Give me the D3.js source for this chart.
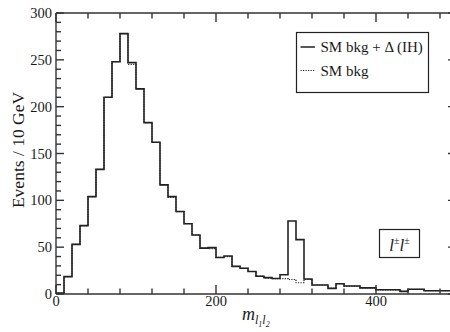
<!DOCTYPE html>
<html>
<head>
<meta charset="utf-8">
<script src="https://cdn.jsdelivr.net/npm/d3@7"></script>
<style>
  html, body { margin: 0; padding: 0; background: #fff; }
  svg { display: block; }
  text { font-family: "Liberation Serif", "DejaVu Serif", serif; fill: #1a1a1a; }
</style>
</head>
<body>
<svg id="chart" width="450" height="332"></svg>
<script>
// Lower edges of the 10 GeV bins in m_{l1 l2}
const binEdges = [0, 10, 20, 30, 40, 50, 60, 70, 80, 90,
  100, 110, 120, 130, 140, 150, 160, 170, 180, 190,
  200, 210, 220, 230, 240, 250, 260, 270, 280, 290,
  300, 310, 320, 330, 340, 350, 360, 370, 380, 390,
  400, 410, 420, 430, 440, 450, 460, 470, 480, 490];
const binWidth = 10;

// SM background plus doubly-charged Higgs (inverted hierarchy)
const sigPlusBkg = [1, 18.5, 53, 73, 104, 133, 210, 248, 278, 247,
  219, 183, 162, 116.5, 104, 88, 75, 63, 49, 49.5,
  39, 40.5, 29.5, 27.5, 24, 19, 17.5, 16.5, 20.5, 78,
  58, 16, 9.6, 9.6, 6, 11, 8.5, 8.5, 6.5, 6.5,
  4.5, 4.5, 4.5, 2.8, 5, 5, 3.5, 3.5, 3.5, 3.5];

// SM background only
const smBkg = [1, 18.5, 53, 73, 104, 133, 210, 248, 278, 245,
  219, 183, 162, 116.5, 103, 88, 75, 63, 49, 48.5,
  39, 40, 29.5, 27.5, 24, 19, 17, 16.5, 16.5, 15.5,
  12, 15.5, 9.6, 9.6, 6, 11, 8.5, 8.5, 6.5, 6.5,
  4.5, 4.5, 4.5, 2.8, 5, 5, 3.5, 3.5, 3.5, 3.5];

const xMinor = [0, 40, 80, 120, 160, 200, 240, 280, 320, 360, 400, 440, 480];
const xMajor = [0, 200, 400];
const yMinor = [0, 10, 20, 30, 40, 50, 60, 70, 80, 90, 100, 110, 120, 130, 140, 150,
  160, 170, 180, 190, 200, 210, 220, 230, 240, 250, 260, 270, 280, 290, 300];
const yMajor = [0, 50, 100, 150, 200, 250, 300];

const legendEntries = [
  { label: "SM bkg + \u0394 (IH)", dash: null },
  { label: "SM bkg", dash: "1.2,1.3" }
];

const svg = d3.select("#chart");
const ink = "#222";

const x = d3.scaleLinear().domain([0, 500]).range([56, 456]);
const y = d3.scaleLinear().domain([0, 300]).range([294, 13]);

// Histogram outline as a step path
function stepPoints(vals) {
  const pts = binEdges.map((e, i) => [e, vals[i]]);
  pts.push([binEdges[binEdges.length - 1] + binWidth, vals[vals.length - 1]]);
  return pts;
}
const step = d3.line().x(d => x(d[0])).y(d => y(d[1])).curve(d3.curveStepAfter);

svg.append("path")
  .attr("d", step(stepPoints(smBkg)))
  .attr("fill", "none").attr("stroke", ink).attr("stroke-width", 1.2)
  .attr("stroke-dasharray", "1.2,1.3");

svg.append("path")
  .attr("d", step(stepPoints(sigPlusBkg)))
  .attr("fill", "none").attr("stroke", ink).attr("stroke-width", 1.6);

// Frame with inward ticks on all four sides
const frame = svg.append("g").attr("stroke", "#333").attr("stroke-width", 1.4).attr("fill", "none");
// bottom / top
[[y(0), -1], [y(300), 1]].forEach(([yy, dir]) => {
  frame.append("line").attr("x1", x(0)).attr("x2", x(500)).attr("y1", yy).attr("y2", yy);
  frame.selectAll(null).data(xMinor).enter().append("line")
    .attr("x1", d => x(d)).attr("x2", d => x(d))
    .attr("y1", yy).attr("y2", d => yy + dir * (xMajor.includes(d) ? 9 : 5.5));
});
// left / right
[[x(0), 1], [x(500), -1]].forEach(([xx, dir]) => {
  frame.append("line").attr("x1", xx).attr("x2", xx).attr("y1", y(0)).attr("y2", y(300));
  frame.selectAll(null).data(yMinor).enter().append("line")
    .attr("y1", d => y(d)).attr("y2", d => y(d))
    .attr("x1", xx).attr("x2", d => xx + dir * (yMajor.includes(d) ? 8 : 5));
});

// Tick labels
svg.selectAll(".xl").data(xMajor).enter().append("text")
  .attr("x", d => x(d)).attr("y", 306).attr("text-anchor", "middle")
  .attr("font-size", 14.5).text(d => d);
svg.selectAll(".yl").data(yMajor).enter().append("text")
  .attr("x", 52).attr("y", d => y(d) + 5).attr("text-anchor", "end")
  .attr("font-size", 14.5).text(d => d);

// Axis titles
svg.append("text")
  .attr("transform", "translate(24,150) rotate(-90)")
  .attr("text-anchor", "middle").attr("font-size", 17.5)
  .text("Events / 10 GeV");

const xt = svg.append("text").attr("x", 242).attr("y", 320).attr("font-size", 18).attr("font-style", "italic");
xt.append("tspan").text("m");
xt.append("tspan").attr("font-size", 12).attr("dy", 4).text("l");
xt.append("tspan").attr("font-size", 8).attr("dy", 3).text("1");
xt.append("tspan").attr("font-size", 12).attr("dy", -3).text("l");
xt.append("tspan").attr("font-size", 8).attr("dy", 3).text("2");

// Legend
const lg = svg.append("g");
lg.append("rect").attr("x", 296.5).attr("y", 32.5).attr("width", 132).attr("height", 60)
  .attr("fill", "#fff").attr("stroke", "#222").attr("stroke-width", 1.2);
legendEntries.forEach((e, i) => {
  const yy = 47 + i * 23.5;
  lg.append("line").attr("x1", 300.5).attr("x2", 315).attr("y1", yy).attr("y2", yy)
    .attr("stroke", ink).attr("stroke-width", e.dash ? 1.1 : 1.5)
    .attr("stroke-dasharray", e.dash);
  lg.append("text").attr("x", 320.5).attr("y", yy + 5).attr("font-size", 15).text(e.label);
});

// Channel label
const cb = svg.append("g");
cb.append("rect").attr("x", 379.5).attr("y", 229.5).attr("width", 40).attr("height", 28)
  .attr("fill", "#fff").attr("stroke", "#222").attr("stroke-width", 1.2);
const ct = cb.append("text").attr("x", 399.5).attr("y", 251).attr("text-anchor", "middle")
  .attr("font-size", 17).attr("font-style", "italic");
ct.append("tspan").text("l");
ct.append("tspan").attr("font-size", 10).attr("dy", -7).attr("font-style", "normal").text("\u00b1");
ct.append("tspan").attr("dy", 7).text("l");
ct.append("tspan").attr("font-size", 10).attr("dy", -7).attr("font-style", "normal").text("\u00b1");
</script>
</body>
</html>
